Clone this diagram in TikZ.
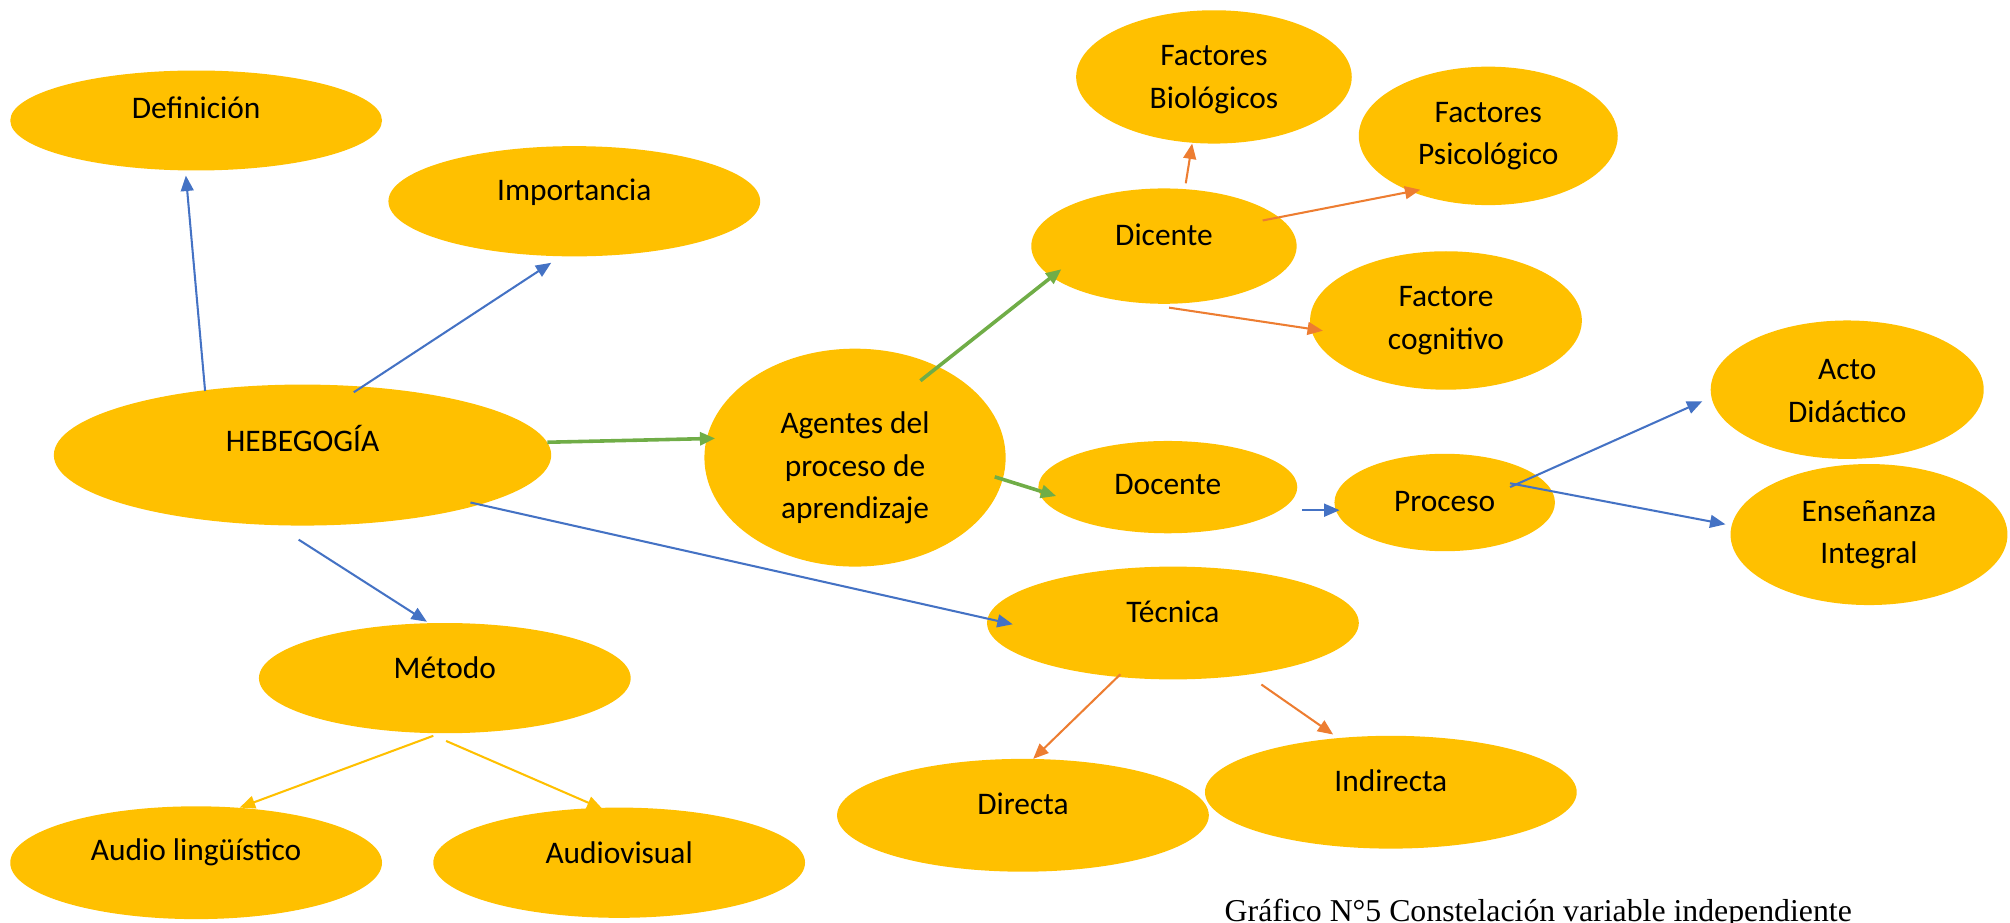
\documentclass[tikz,border=0pt]{standalone}
\usepackage{fontspec}
\setmainfont{Carlito}
\newfontfamily\capfont{Liberation Serif}
\usetikzlibrary{arrows.meta,shapes.geometric}
\definecolor{gold}{HTML}{FFC000}
\definecolor{blueC}{HTML}{4472C4}
\definecolor{greenC}{HTML}{70AD47}
\definecolor{orangeC}{HTML}{ED7D31}
\begin{document}
\begin{tikzpicture}[x=1pt,y=-1pt,
  ov/.style 2 args={ellipse, fill=gold, inner sep=0pt, minimum width=#1, minimum height=#2},
  txt/.style={font=\fontsize{24.5}{33}\selectfont, align=center, inner sep=0pt, text=black},
  tip/.style={-{Triangle[length=12pt,width=10pt]}},
  ba/.style={draw=blueC, line width=1.6pt, tip},
  ga/.style={draw=greenC, line width=2.8pt, tip},
  oa/.style={draw=orangeC, line width=1.6pt, tip},
  ya/.style={draw=gold, line width=1.6pt, tip}]
\useasboundingbox (0,0) rectangle (1568,719.3);
% ellipses
\node[ov={290}{78}, label={[txt,yshift=10pt]center:Definición}] (def) at (153,94) {};
\node[ov={290}{86}, label={[txt,yshift=7pt]center:Importancia}] (imp) at (448,157) {};
\node[ov={388}{110}, label={[txt,yshift=13pt]center:HEBEGOGÍA}] (heb) at (236,355) {};
\node[ov={235}{170}, label={[txt,yshift=-8pt]center:Agentes del\\proceso de\\aprendizaje}] (ag) at (667,357) {};
\node[ov={215}{104}, label={[txt,yshift=-2pt]center:Factores\\Biológicos}] (fb) at (947,60) {};
\node[ov={202}{108}, label={[txt]center:Factores\\Psicológico}] (fp) at (1161,106) {};
\node[ov={207}{90}, label={[txt,yshift=9pt]center:Dicente}] (dic) at (908,192) {};
\node[ov={212}{108}, label={[txt]center:Factore\\cognitivo}] (fc) at (1128,250) {};
\node[ov={213}{108}, label={[txt,yshift=-1pt]center:Acto\\Didáctico}] (acto) at (1441,304) {};
\node[ov={202}{72}, label={[txt,yshift=2pt]center:Docente}] (doc) at (911,380) {};
\node[ov={172}{76}, label={[txt,yshift=1pt]center:Proceso}] (proc) at (1127,392) {};
\node[ov={216}{110}, label={[txt]center:Enseñanza\\Integral}] (ens) at (1458,417) {};
\node[ov={290}{88}, label={[txt,yshift=9pt]center:Técnica}] (tec) at (915,486) {};
\node[ov={290}{86}, label={[txt,yshift=8pt]center:Método}] (met) at (347,529) {};
\node[ov={290}{88}, label={[txt,yshift=8pt]center:Audio lingüístico}] (al) at (153,673) {};
\node[ov={290}{86}, label={[txt,yshift=8pt]center:Audiovisual}] (av) at (483,673) {};
\node[ov={290}{88}, label={[txt,yshift=9pt]center:Directa}] (dir) at (798,636) {};
\node[ov={290}{88}, label={[txt,yshift=9pt]center:Indirecta}] (ind) at (1085,618) {};
% caption
\node[font=\capfont\fontsize{24.8}{28}\selectfont, anchor=base, inner sep=0pt] (cap) at (1200,719) {Gráfico N°5 Constelación variable independiente};
% connectors
\draw[ba] ([shift={(-76,-50)}]heb.center) -- ([shift={(-8,43)}]def.center);
\draw[ba] ([shift={(40,-49)}]heb.center) -- ([shift={(-18,48)}]imp.center);
\draw[ga] ([shift={(191,-10)}]heb.center) -- ([shift={(-109,-15)}]ag.center);
\draw[ga] ([shift={(51,-60)}]ag.center) -- ([shift={(-80,18)}]dic.center);
\draw[ga] ([shift={(109,15)}]ag.center) -- ([shift={(-87,7)}]doc.center);
\draw[oa] ([shift={(17,-49)}]dic.center) -- ([shift={(-17,52)}]fb.center);
\draw[oa] ([shift={(77,-20)}]dic.center) -- ([shift={(-53,42)}]fp.center);
\draw[oa] ([shift={(4,48)}]dic.center) -- ([shift={(-96,8)}]fc.center);
\draw[ba] ([shift={(105,18)}]doc.center) -- ([shift={(-82,6)}]proc.center);
\draw[ba] ([shift={(51,-12)}]proc.center) -- ([shift={(-113,9)}]acto.center);
\draw[ba] ([shift={(51,-15)}]proc.center) -- ([shift={(-112,-8)}]ens.center);
\draw[ba] ([shift={(131,37)}]heb.center) -- ([shift={(-125,1)}]tec.center);
\draw[ba] ([shift={(-3,66)}]heb.center) -- ([shift={(-14,-44)}]met.center);
\draw[oa] ([shift={(-41,40)}]tec.center) -- ([shift={(8,-44)}]dir.center);
\draw[oa] ([shift={(69,48)}]tec.center) -- ([shift={(-45,-45)}]ind.center);
\draw[ya] ([shift={(-9,45)}]met.center) -- ([shift={(34,-43)}]al.center);
\draw[ya] ([shift={(1,49)}]met.center) -- ([shift={(-13,-42)}]av.center);
\end{tikzpicture}
\end{document}
